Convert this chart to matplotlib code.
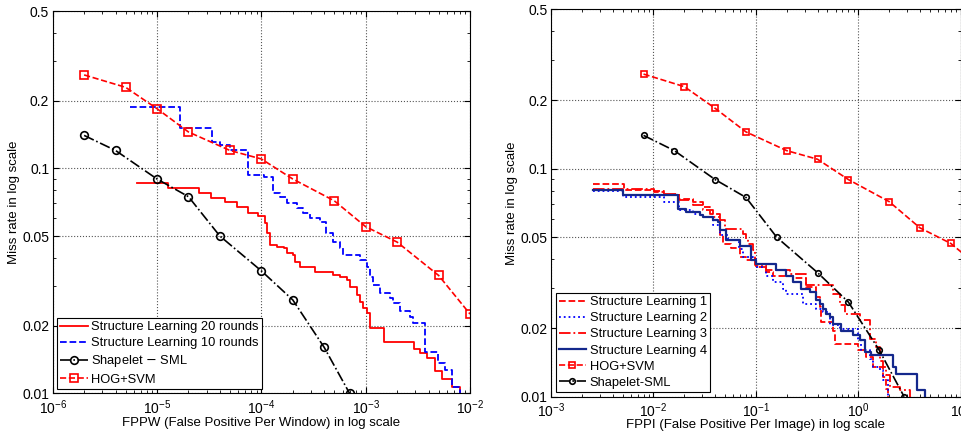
import numpy as np
import matplotlib
matplotlib.use("Agg")
import matplotlib.pyplot as plt
from matplotlib.ticker import FixedLocator, FixedFormatter, LogLocator, NullFormatter

plt.rcParams['font.family'] = ['Liberation Sans', 'DejaVu Sans']
plt.rcParams['font.size'] = 9.5

# ---- left panel: miss rate vs FPPW ----
sl20_x = [6.4e-6, 1.28e-5, 2.55e-5, 3.27e-5, 4.5e-5, 5.8e-5, 7.5e-5, 9.35e-5, 1.08e-4, 1.12e-4,
          1.21e-4, 1.40e-4, 1.63e-4, 1.75e-4, 2.03e-4, 2.10e-4, 2.35e-4, 3.27e-4, 4.9e-4, 5.7e-4,
          6.6e-4, 7.1e-4, 8.2e-4, 8.8e-4, 9.5e-4, 1.02e-3, 1.10e-3, 1.5e-3, 2.9e-3, 3.3e-3,
          3.85e-3, 4.62e-3, 5.35e-3, 6.67e-3, 8.0e-3]
sl20_y = [0.086, 0.0815, 0.0774, 0.0735, 0.0706, 0.0675, 0.0631, 0.0614, 0.0569, 0.0514,
          0.0456, 0.0449, 0.0441, 0.0419, 0.0412, 0.0385, 0.0366, 0.0347, 0.0336, 0.033,
          0.0319, 0.0298, 0.0274, 0.0255, 0.0239, 0.0227, 0.0195, 0.0169, 0.0158, 0.0151,
          0.0143, 0.0125, 0.0116, 0.0107, 0.0100]

sl10_x = [5.5e-6, 1.66e-5, 3.34e-5, 4.0e-5, 5.0e-5, 7.5e-5, 1.05e-4, 1.30e-4, 1.51e-4, 1.75e-4,
          2.18e-4, 2.53e-4, 2.93e-4, 3.65e-4, 4.2e-4, 4.9e-4, 5.7e-4, 6.1e-4, 8.8e-4, 1.02e-3,
          1.10e-3, 1.18e-3, 1.37e-3, 1.71e-3, 1.84e-3, 2.13e-3, 2.66e-3, 2.86e-3, 3.7e-3, 4.98e-3,
          5.75e-3, 6.67e-3, 8.0e-3]
sl10_y = [0.188, 0.151, 0.131, 0.127, 0.1205, 0.0933, 0.0918, 0.0774, 0.0748, 0.0698,
          0.0664, 0.0631, 0.060, 0.058, 0.0514, 0.0472, 0.0441, 0.0412, 0.0391, 0.0366,
          0.033, 0.0303, 0.0278, 0.0264, 0.0251, 0.0231, 0.0219, 0.0205, 0.0153, 0.0136,
          0.0127, 0.0107, 0.0100]

shapelet_fppw = [2e-6, 4e-6, 1e-5, 2e-5, 4e-5, 1e-4, 2e-4, 4e-4, 7e-4]
shapelet_miss = [0.14, 0.12, 0.0896, 0.0748, 0.05, 0.035, 0.026, 0.016, 0.01]

hog_fppw = [2e-6, 5e-6, 1e-5, 2e-5, 5e-5, 1e-4, 2e-4, 5e-4, 1e-3, 2e-3, 5e-3, 1e-2]
hog_miss = [0.26, 0.229, 0.184, 0.145, 0.12, 0.11, 0.0896, 0.0717, 0.055, 0.047, 0.0334, 0.0225]

# ---- right panel: miss rate vs FPPI ----
sl1_x = [2.55e-3, 5.2e-3, 1.02e-2, 1.28e-2, 1.79e-2, 2.42e-2, 3.03e-2, 3.53e-2, 4.42e-2, 4.76e-2,
         5.74e-2, 6.92e-2, 8.05e-2, 0.1007, 0.126, 0.147, 0.23, 0.31, 0.389, 0.419,
         0.435, 0.565, 0.587, 0.993, 1.2, 1.39, 1.74, 1.88, 1.95]
sl1_y = [0.0853, 0.0809, 0.079, 0.0764, 0.0739, 0.0714, 0.0679, 0.0635, 0.051, 0.0469,
         0.045, 0.041, 0.0396, 0.0371, 0.0352, 0.034, 0.0333, 0.0303, 0.0274, 0.0247,
         0.0213, 0.0195, 0.017, 0.016, 0.0149, 0.0135, 0.0122, 0.0108, 0.0100]

sl2_x = [2.55e-3, 5.0e-3, 1.28e-2, 1.79e-2, 2.42e-2, 3.03e-2, 3.8e-2, 4.42e-2, 5.3e-2, 6.9e-2,
         7.5e-2, 9.35e-2, 0.1007, 0.126, 0.147, 0.184, 0.198, 0.288, 0.389, 0.452,
         0.525, 0.658, 0.993, 1.07, 1.29, 1.39, 1.61, 1.74, 1.95]
sl2_y = [0.0798, 0.0751, 0.0714, 0.0656, 0.0635, 0.0614, 0.0564, 0.051, 0.0485, 0.0446,
         0.041, 0.0403, 0.0371, 0.034, 0.0318, 0.0298, 0.0283, 0.0256, 0.0243, 0.0235,
         0.0206, 0.0199, 0.0177, 0.016, 0.0147, 0.0135, 0.0131, 0.0118, 0.0100]

sl3_x = [2.55e-3, 1.02e-2, 1.28e-2, 1.79e-2, 2.42e-2, 3.03e-2, 3.8e-2, 4.42e-2, 4.94e-2, 7.46e-2,
         8.05e-2, 8.35e-2, 9.35e-2, 9.7e-2, 0.126, 0.213, 0.31, 0.565, 0.658, 0.735,
         1.03, 1.29, 1.5, 1.61, 1.74, 1.88, 2.02, 2.54, 3.18]
sl3_y = [0.0817, 0.0798, 0.0777, 0.0731, 0.0691, 0.0656, 0.0614, 0.0593, 0.0545, 0.0519,
         0.0493, 0.0469, 0.0438, 0.0377, 0.0358, 0.0346, 0.0308, 0.0283, 0.0252, 0.0231,
         0.0216, 0.018, 0.0165, 0.0144, 0.0135, 0.0124, 0.011, 0.0107, 0.0100]

sl4_x = [2.55e-3, 5.0e-3, 1.73e-2, 2.09e-2, 2.82e-2, 3.03e-2, 3.8e-2, 4.25e-2, 4.42e-2, 5.13e-2,
         6.92e-2, 9.0e-2, 0.1007, 0.158, 0.198, 0.23, 0.277, 0.334, 0.389, 0.419,
         0.452, 0.487, 0.525, 0.565, 0.68, 0.89, 1.03, 1.15, 1.34, 2.2,
         2.35, 3.75, 4.45]
sl4_y = [0.0803, 0.0769, 0.0668, 0.0645, 0.0624, 0.0614, 0.0593, 0.0584, 0.0536, 0.0485,
         0.0456, 0.0396, 0.0383, 0.0358, 0.034, 0.0318, 0.0298, 0.0288, 0.0265, 0.0254,
         0.0243, 0.0231, 0.0224, 0.0209, 0.0195, 0.0186, 0.0177, 0.0157, 0.0152, 0.0135,
         0.0126, 0.0107, 0.0100]

hog_fppi = [0.008, 0.02, 0.04, 0.08, 0.2, 0.4, 0.8, 2, 4, 8, 20, 40]
hog_fppi_miss = [0.26, 0.229, 0.184, 0.145, 0.12, 0.11, 0.0896, 0.0717, 0.055, 0.047, 0.0334, 0.0225]

shapelet_fppi = [0.008, 0.016, 0.04, 0.08, 0.16, 0.4, 0.8, 1.6, 2.8]
shapelet_fppi_miss = [0.14, 0.12, 0.0896, 0.0748, 0.05, 0.035, 0.026, 0.016, 0.01]

miss_ticks = [0.01, 0.02, 0.05, 0.1, 0.2, 0.5]
miss_labels = ['0.01', '0.02', '0.05', '0.1', '0.2', '0.5']

navy = '#14288c'


def style_axes(ax, xlim):
    ax.set_xscale('log')
    ax.set_yscale('log')
    ax.set_xlim(xlim)
    ax.set_ylim(0.01, 0.5)
    ax.yaxis.set_major_locator(FixedLocator(miss_ticks))
    ax.yaxis.set_major_formatter(FixedFormatter(miss_labels))
    ax.yaxis.set_minor_locator(LogLocator(base=10, subs=np.arange(2, 10)))
    ax.yaxis.set_minor_formatter(NullFormatter())
    ax.xaxis.set_minor_locator(LogLocator(base=10, subs=np.arange(2, 10), numticks=20))
    ax.xaxis.set_minor_formatter(NullFormatter())
    ax.tick_params(which='both', direction='in', top=True, right=True, labelsize=10)
    ax.tick_params(axis='x', pad=3.5)
    ax.tick_params(axis='y', pad=2.5)
    ax.tick_params(which='major', length=4)
    ax.tick_params(which='minor', length=2)
    ax.grid(True, which='major', linestyle=':', color='#555555', linewidth=0.8)
    ax.set_ylabel('Miss rate in log scale', fontsize=9.5, labelpad=1.5)
    for s in ax.spines.values():
        s.set_linewidth(0.8)


def add_legend(ax):
    leg = ax.legend(loc='lower left', fontsize=9.3, fancybox=False, framealpha=1,
                    edgecolor='black', handlelength=2.1, borderpad=0.25, labelspacing=0.32,
                    borderaxespad=0.35, handletextpad=0.3)
    leg.get_frame().set_linewidth(0.8)


fig = plt.figure(figsize=(9.62, 4.37), dpi=100)

ax1 = fig.add_axes([0.0548, 0.1000, 0.4338, 0.8748])
ax1.plot(sl20_x, sl20_y, color='red', lw=1.3, drawstyle='steps-post',
         label='Structure Learning 20 rounds')
ax1.plot(sl10_x, sl10_y, color='blue', lw=1.3, ls='--', drawstyle='steps-post',
         label='Structure Learning 10 rounds')
ax1.plot(shapelet_fppw, shapelet_miss, color='black', lw=1.2, ls='-.', marker='o',
         ms=5.5, mfc='none', mew=1.2, label='Shapelet $-$ SML')
ax1.plot(hog_fppw, hog_miss, color='red', lw=1.2, ls='--', marker='s',
         ms=5.5, mfc='none', mew=1.2, label='HOG+SVM')
style_axes(ax1, (1e-6, 1e-2))
ax1.set_xlabel('FPPW (False Positive Per Window) in log scale', fontsize=9.5, labelpad=0)
add_legend(ax1)

ax2 = fig.add_axes([0.5728, 0.0922, 0.4259, 0.8865])
ax2.plot(sl1_x, sl1_y, color='red', lw=1.3, ls='--', drawstyle='steps-post',
         label='Structure Learning 1')
ax2.plot(sl2_x, sl2_y, color='blue', lw=1.3, ls=':', drawstyle='steps-post',
         label='Structure Learning 2')
ax2.plot(sl3_x, sl3_y, color='red', lw=1.3, ls='-.', drawstyle='steps-post',
         label='Structure Learning 3')
ax2.plot(sl4_x, sl4_y, color=navy, lw=1.6, drawstyle='steps-post',
         label='Structure Learning 4')
ax2.plot(hog_fppi, hog_fppi_miss, color='red', lw=1.2, ls='--', marker='s',
         ms=4.5, mfc='none', mew=1.2, label='HOG+SVM')
ax2.plot(shapelet_fppi, shapelet_fppi_miss, color='black', lw=1.2, ls='-.', marker='o',
         ms=4, mfc='none', mew=1.2, label='Shapelet-SML')
style_axes(ax2, (1e-3, 10))
ax2.set_xlabel('FPPI (False Positive Per Image) in log scale', fontsize=9.5, labelpad=-1)
add_legend(ax2)

fig.savefig('out.png', dpi=100)
